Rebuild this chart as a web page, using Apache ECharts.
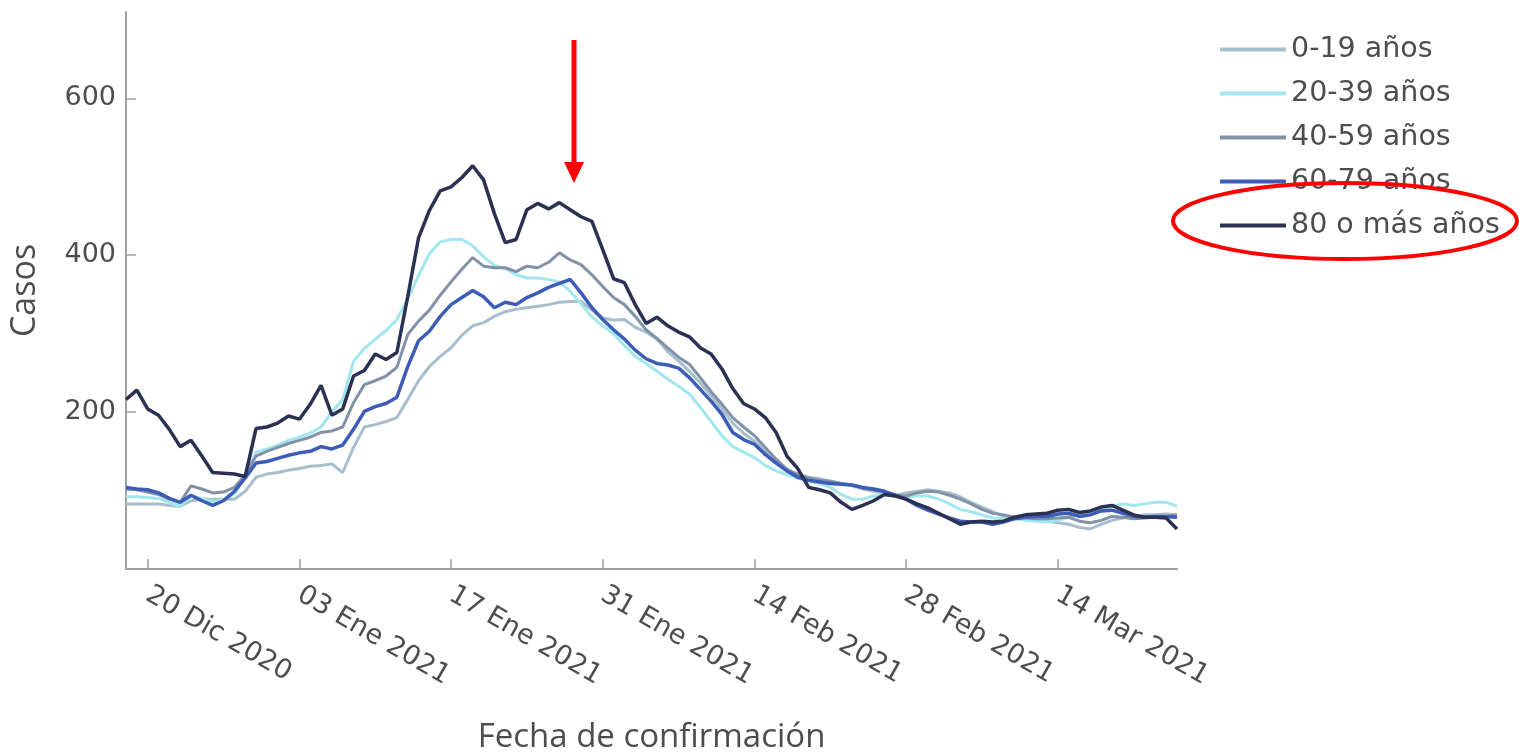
<!DOCTYPE html>
<html>
<head>
<meta charset="utf-8">
<script src="https://cdn.jsdelivr.net/npm/echarts@6/dist/echarts.min.js"></script>
<style>
html,body{margin:0;padding:0;background:#fff;}
#chart{width:1519px;height:754px;}
</style>
</head>
<body>
<div id="chart"></div>
<script>
// ---- data ----
const monthNames = ['Ene','Feb','Mar','Abr','May','Jun','Jul','Ago','Sep','Oct','Nov','Dic'];
const startDate = [2020, 11, 18]; // 18 Dic 2020
const dayCount = 98;              // through 25 Mar 2021
const tickLabels = ['20 Dic 2020','03 Ene 2021','17 Ene 2021','31 Ene 2021','14 Feb 2021','28 Feb 2021','14 Mar 2021'];
const yTickLabels = [200, 400, 600];
const seriesNames = ['0-19 años','20-39 años','40-59 años','60-79 años','80 o más años'];
const seriesColors = ['#a7bfcc','#a2e6ef','#8191a7','#3d5cb8','#2b3152'];

const s0_19 = [83,83,83,83,81,80,87,89,89,89,89,99,117,121,123,126,128,131,132,134,
  123,155,181,184,188,193,216,240,258,271,282,298,310,314,322,328,331,333,335,337,
  340,341,341,330,320,317,318,308,302,293,277,265,252,237,221,204,186,173,163,150,
  137,127,121,117,115,112,109,106,102,99,97,94,97,99,101,99,97,92,85,79,
  73,67,65,64,62,61,59,57,53,51,57,62,65,67,69,69,70,69];
const s20_39 = [92,92,91,90,85,80,93,90,86,88,96,118,149,153,158,164,168,173,181,200,
  216,265,281,293,304,318,344,374,402,417,420,420,412,398,387,383,375,371,371,369,
  366,354,338,321,310,300,285,271,262,252,242,233,223,206,188,170,156,149,142,132,
  125,120,116,112,109,104,95,89,89,93,95,94,92,93,93,89,83,76,73,69,
  65,64,64,62,61,60,62,66,69,73,76,80,83,81,83,85,85,80];
const s40_59 = [102,101,98,95,89,85,106,102,97,98,104,120,144,150,155,160,164,168,174,176,
  181,212,235,240,246,257,299,316,330,349,366,382,397,386,384,384,379,386,384,391,
  403,394,388,375,360,346,337,322,305,294,282,270,261,244,226,210,193,181,170,155,
  140,127,120,116,113,112,109,107,103,101,98,94,93,97,99,98,94,89,83,76,
  71,69,66,65,64,64,65,66,61,59,62,67,66,64,65,66,67,69];
const s60_79 = [104,102,101,97,90,85,94,87,81,87,99,116,135,137,141,145,148,150,156,153,
  158,178,201,207,211,219,258,291,303,322,337,346,355,347,333,340,337,346,352,359,
  364,369,352,333,318,305,293,279,268,262,260,256,244,229,214,197,174,165,159,146,
  135,125,117,113,111,109,108,107,104,102,99,94,89,81,75,70,65,61,60,60,
  57,60,64,66,67,67,70,71,67,69,74,75,71,67,66,67,67,66];
const s80plus = [216,228,204,196,178,156,164,144,123,122,121,118,179,181,186,195,191,210,234,196,
  204,246,253,274,267,276,347,422,457,482,487,499,514,496,453,416,420,458,466,459,
  467,458,449,443,407,370,365,337,313,321,310,302,296,282,274,255,230,211,204,193,
  174,144,128,104,101,97,85,76,81,87,95,93,89,83,78,71,64,57,60,61,
  60,61,66,69,70,71,75,76,72,74,79,81,75,69,66,66,65,51];
const allSeries = [s0_19, s20_39, s40_59, s60_79, s80plus];

// categories (one per day)
const categories = [];
for (let i = 0; i < dayCount; i++) {
  const d = new Date(Date.UTC(startDate[0], startDate[1], startDate[2] + i));
  const dd = String(d.getUTCDate()).padStart(2, '0');
  categories.push(dd + ' ' + monthNames[d.getUTCMonth()] + ' ' + d.getUTCFullYear());
}
const isTick = (idx) => tickLabels.indexOf(categories[idx]) !== -1;

const textColor = '#4d4d4d';
const axisColor = '#a0a0a0';
const fontMain = 'DejaVu Sans';

const chart = echarts.init(document.getElementById('chart'), null, {renderer: 'canvas'});
chart.setOption({
  animation: false,
  backgroundColor: '#ffffff',
  grid: {left: 126, right: 342, top: 12, bottom: 185, containLabel: false, outerBoundsMode: 'none'},
  legend: {
    orient: 'vertical',
    left: 1215,
    top: 30,
    itemWidth: 66,
    itemHeight: 4,
    itemGap: 15,
    itemTextGap: 14,
    icon: 'rect',
    textStyle: {fontFamily: fontMain, fontSize: 28.5, color: textColor, lineHeight: 28, padding: [0,0,0,0]},
    data: seriesNames
  },
  xAxis: {
    type: 'category',
    data: categories,
    boundaryGap: false,
    axisLine: {show: true, lineStyle: {color: axisColor, width: 2}},
    axisTick: {show: true, inside: true, length: 10, interval: (idx) => isTick(idx), lineStyle: {color: axisColor, width: 1.5}},
    axisLabel: {
      interval: (idx) => isTick(idx),
      rotate: -30,
      margin: 24,
      fontFamily: fontMain,
      fontSize: 27,
      color: textColor
    },
    splitLine: {show: false},
    name: 'Fecha de confirmación',
    nameLocation: 'middle',
    nameGap: 152,
    nameTextStyle: {fontFamily: 'Open Sans', fontSize: 33, color: textColor}
  },
  yAxis: {
    type: 'value',
    min: 0,
    max: 710,
    interval: 200,
    axisLine: {show: true, lineStyle: {color: axisColor, width: 2}},
    axisTick: {show: true, inside: true, length: 10, lineStyle: {color: axisColor, width: 1.5}},
    axisLabel: {
      margin: 10,
      showMaxLabel: false,
      fontFamily: fontMain,
      fontSize: 27,
      color: textColor,
      formatter: (v) => (yTickLabels.indexOf(v) !== -1 ? String(v) : '')
    },
    splitLine: {show: false},
    name: 'Casos',
    nameLocation: 'middle',
    nameRotate: 90,
    nameGap: 84,
    nameTextStyle: {fontFamily: 'Open Sans', fontSize: 34, color: textColor}
  },
  series: seriesNames.map((name, k) => ({
    name: name,
    type: 'line',
    data: allSeries[k],
    symbol: 'none',
    smooth: false,
    color: seriesColors[k],
    lineStyle: {width: k >= 3 ? 3.5 : 3, color: seriesColors[k]},
    z: 2 + k
  })),
  graphic: [
    {type: 'line', z: 100, shape: {x1: 574, y1: 40, x2: 574, y2: 166}, style: {stroke: '#ff0000', lineWidth: 5}},
    {type: 'polygon', z: 100, shape: {points: [[564, 162], [584, 162], [574, 183]]}, style: {fill: '#ff0000'}},
    {type: 'ellipse', z: 100, shape: {cx: 1345, cy: 221, rx: 172, ry: 38}, style: {fill: null, stroke: '#ff0000', lineWidth: 4}}
  ]
});
</script>
</body>
</html>
